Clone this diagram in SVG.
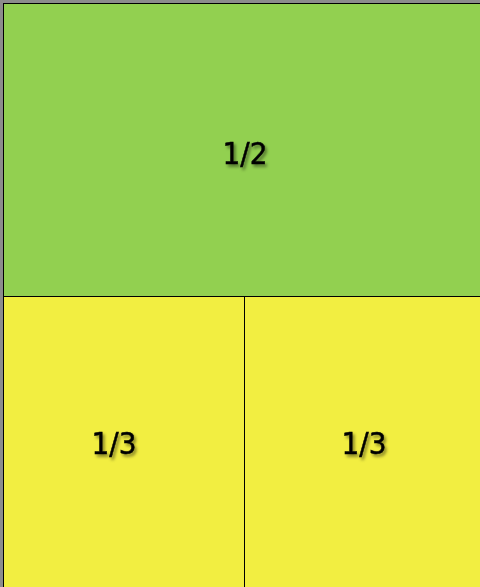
<svg xmlns="http://www.w3.org/2000/svg" width="480" height="587" viewBox="0 0 480 587">
  <defs>
    <filter id="sh" x="-20%" y="-20%" width="140%" height="140%">
      <feDropShadow dx="2" dy="2.5" stdDeviation="1.6" flood-color="#000" flood-opacity="0.45"/>
    </filter>
    <style>
      .lbl { font-family: "DejaVu Sans Condensed", "DejaVu Sans", sans-serif; font-stretch: condensed; font-size: 31px; fill: #000; stroke: #000; stroke-width: 0.5; text-anchor: middle; filter: url(#sh); }
      .cell { stroke: #000; stroke-width: 1; }
    </style>
  </defs>
  <rect x="0" y="0" width="480" height="587" fill="#8c8c8c"/>
  <g id="top">
    <rect class="cell" x="3.5" y="3.5" width="480" height="293" fill="#92d050"/>
    <text class="lbl" x="245" y="164">1/2</text>
  </g>
  <g id="left">
    <rect class="cell" x="3.5" y="296.5" width="241" height="300" fill="#f2ee41"/>
    <text class="lbl" x="114" y="454">1/3</text>
  </g>
  <g id="right">
    <rect class="cell" x="244.5" y="296.5" width="241" height="300" fill="#f2ee41"/>
    <text class="lbl" x="364" y="454">1/3</text>
  </g>
</svg>
